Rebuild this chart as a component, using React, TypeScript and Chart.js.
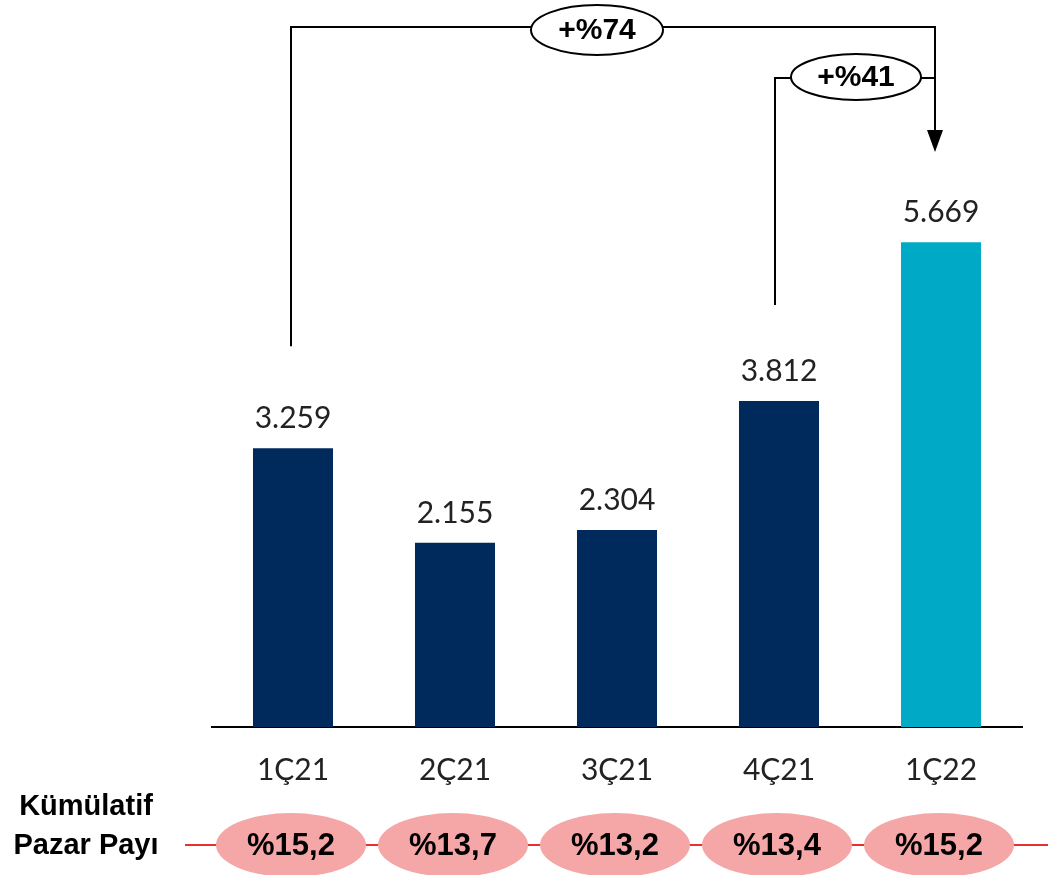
import React, { useEffect, useRef } from "react";
import { Chart, registerables } from "chart.js";

Chart.register(...registerables);

const categories = ["1Ç21", "2Ç21", "3Ç21", "4Ç21", "1Ç22"];
const values = [3259, 2155, 2304, 3812, 5669];
const valueLabels = ["3.259", "2.155", "2.304", "3.812", "5.669"];
const shareLabels = ["%15,2", "%13,7", "%13,2", "%13,4", "%15,2"];
const growthTotal = "+%74";
const growthQuarter = "+%41";
const barColors = ["#002A5C", "#002A5C", "#002A5C", "#002A5C", "#00AAC7"];

const LABEL_FONT = "Lato, 'Open Sans', sans-serif";
const BOLD_FONT = "'Liberation Sans', Arial, sans-serif";

const overlayPlugin = {
  id: "overlay",
  afterDatasetsDraw(chart: any) {
    const ctx = chart.ctx;
    const meta = chart.getDatasetMeta(0);
    const bars = meta.data;
    ctx.save();

    // value labels
    ctx.fillStyle = "#222222";
    ctx.font = `30px ${LABEL_FONT}`;
    ctx.textAlign = "center";
    ctx.textBaseline = "alphabetic";
    bars.forEach((b: any, i: number) => {
      ctx.fillText(valueLabels[i], b.x, b.y - 20);
    });

    const ellipse = (cx: number, cy: number, rx: number, ry: number, fill: string, stroke: string | null) => {
      ctx.beginPath();
      ctx.ellipse(cx, cy, rx, ry, 0, 0, Math.PI * 2);
      ctx.fillStyle = fill;
      ctx.fill();
      if (stroke) {
        ctx.lineWidth = 2;
        ctx.strokeStyle = stroke;
        ctx.stroke();
      }
    };

    // brackets
    const b0 = bars[0];
    const b3 = bars[3];
    const b4 = bars[4];
    const rightX = b4.x - 6;
    const topY = 27;
    const midY = 78;
    ctx.strokeStyle = "#000000";
    ctx.lineWidth = 2;
    ctx.beginPath();
    ctx.moveTo(b0.x - 2, b0.y - 102);
    ctx.lineTo(b0.x - 2, topY);
    ctx.lineTo(rightX, topY);
    ctx.lineTo(rightX, 132);
    ctx.stroke();
    ctx.beginPath();
    ctx.moveTo(b3.x - 4, b3.y - 96);
    ctx.lineTo(b3.x - 4, midY);
    ctx.lineTo(rightX, midY);
    ctx.stroke();
    ctx.beginPath();
    ctx.moveTo(rightX - 8, 130);
    ctx.lineTo(rightX + 8, 130);
    ctx.lineTo(rightX, 152);
    ctx.closePath();
    ctx.fillStyle = "#000000";
    ctx.fill();

    ellipse(597, 30, 66, 25, "#ffffff", "#000000");
    ellipse(856, 77, 65, 23, "#ffffff", "#000000");
    ctx.fillStyle = "#000000";
    ctx.font = `bold 30px ${BOLD_FONT}`;
    ctx.textBaseline = "middle";
    ctx.fillText(growthTotal, 597, 31);
    ctx.fillText(growthQuarter, 856, 78);

    // bottom share row
    const rowY = 845;
    ctx.strokeStyle = "#E8312F";
    ctx.lineWidth = 2;
    ctx.beginPath();
    ctx.moveTo(185, rowY);
    ctx.lineTo(chart.width, rowY);
    ctx.stroke();
    bars.forEach((b: any, i: number) => {
      ellipse(b.x - 2, rowY, 75, 32, "#F4A7A6", null);
      ctx.fillStyle = "#000000";
      ctx.font = `bold 31px ${BOLD_FONT}`;
      ctx.textBaseline = "middle";
      ctx.fillText(shareLabels[i], b.x - 2, rowY + 1);
    });

    ctx.font = `bold 29px ${BOLD_FONT}`;
    ctx.fillText("Kümülatif", 86, 807);
    ctx.fillText("Pazar Payı", 86, 846);
    ctx.restore();
  },
};

export default function App() {
  const ref = useRef<HTMLCanvasElement>(null);
  useEffect(() => {
    if (!ref.current) return;
    const chart = new Chart(ref.current, {
      type: "bar",
      data: {
        labels: categories,
        datasets: [
          {
            data: values,
            backgroundColor: barColors,
            barPercentage: 0.494,
            categoryPercentage: 1,
          },
        ],
      },
      options: {
        responsive: false,
        animation: false,
        devicePixelRatio: 1,
        layout: { padding: { left: 212, right: 26, top: 0, bottom: 0 } },
        plugins: { legend: { display: false }, tooltip: { enabled: false } },
        scales: {
          x: {
            grid: { display: false, drawTicks: false },
            border: { display: true, color: "#000000", width: 2 },
            ticks: {
              color: "#222222",
              font: { family: LABEL_FONT, size: 30 },
              padding: 25,
            },
            afterFit: (scale: any) => {
              scale.height = 148;
            },
          },
          y: {
            display: false,
            min: 0,
            max: 8500,
          },
        },
      },
      plugins: [overlayPlugin],
    });
    return () => chart.destroy();
  }, []);
  return (
    <div style={{ position: "absolute", left: 0, top: 0, width: 1048, height: 875, background: "#ffffff" }}>
      <canvas ref={ref} width={1048} height={875} />
    </div>
  );
}
